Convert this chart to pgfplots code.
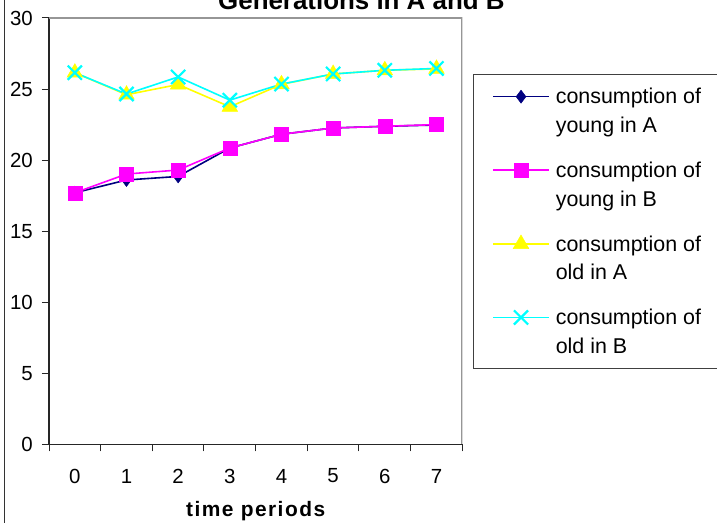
\documentclass[border=0pt]{standalone}
\usepackage{fontspec}
\setmainfont{Liberation Sans}
\usepackage{pgfplots}
\pgfplotsset{compat=1.18}
\usepackage{pgfplotstable}

\definecolor{xlnavy}{RGB}{0,0,128}
\definecolor{xlmagenta}{RGB}{255,0,255}
\definecolor{xlyellow}{RGB}{255,255,0}
\definecolor{xlcyan}{RGB}{0,255,255}
\definecolor{framegray}{RGB}{150,150,150}

% consumption by generation and economy over time
\pgfplotstableread{
t  youngA youngB oldA  oldB
0  17.70  17.70  26.15 26.15
1  18.60  19.02  24.60 24.65
2  18.85  19.30  25.32 25.85
3  20.85  20.85  23.75 24.22
4  21.82  21.82  25.33 25.35
5  22.26  22.26  26.06 26.06
6  22.38  22.38  26.32 26.32
7  22.47  22.50  26.42 26.45
}\consdata

\begin{document}
\begin{tikzpicture}[font=\fontsize{20.5}{29}\selectfont]
\useasboundingbox (0,0) rectangle (717bp,523bp);
\clip (0,0) rectangle (717bp,523bp);
\fill[white] (0,0) rectangle (717bp,523bp);
% chart area border
\draw[black!80, line width=1bp] (4bp,-5bp) -- (4bp,530bp);
% title
\node[anchor=base west, inner sep=0pt, font=\fontsize{26}{30}\selectfont\bfseries]
  at (218bp,513bp) {Generations in A and B};
\begin{axis}[
  at={(49bp,78.7bp)}, anchor=south west,
  scale only axis, width=413.3bp, height=426.3bp,
  xmin=-0.5, xmax=7.5, ymin=0, ymax=30,
  axis lines*=left,
  axis line style={black!85, line width=1.3bp},
  tick align=outside,
  major tick length=7bp,
  tick style={black!85, line width=1bp},
  /pgf/number format/assume math mode=true,
  ytick={0,5,...,30},
  yticklabel style={inner sep=0pt, xshift=-9bp},
  xtick={-0.5,0.5,...,7.5},
  xticklabels={},
  extra x ticks={0,1,...,7},
  extra x tick labels={0,1,2,3,4,5,6,7},
  extra x tick style={
    major tick length=0pt,
    tick style={draw=none},
    xticklabel style={anchor=center, inner sep=0pt, yshift=-31.7bp}},
  xlabel={time periods},
  xlabel style={at={(axis description cs:0.5,0)}, anchor=base, inner sep=0pt,
    yshift=-72.4bp,
    font=\fontsize{21}{29}\selectfont\bfseries\addfontfeature{LetterSpace=7}},
  legend image code/.code={\draw[mark repeat=2, mark phase=2, #1]
      plot coordinates {(0bp,14.5bp) (28bp,14.5bp) (56bp,14.5bp)};},
  legend image post style={line width=1.6bp},
  legend cell align=left,
  legend style={at={(axis description cs:1.0252,0.8679)}, anchor=north west,
    draw=black!75, line width=1bp, fill=white,
    font=\fontsize{21.5}{29}\selectfont,
    inner xsep=19bp, inner ysep=13.4bp, row sep=27.5bp, column sep=6bp,
    nodes={inner sep=0pt}, cells={align=left}},
]
\addplot[xlnavy, line width=1.6bp, mark=diamond*, mark size=6.5bp,
  mark options={fill=xlnavy, line width=0.5bp}]
  table[x=t, y=youngA] {\consdata};
\addlegendentry{consumption of\\young in A}
\addplot[xlmagenta, line width=1.6bp, mark=square*, mark size=7bp,
  mark options={fill=xlmagenta, line width=0.5bp}]
  table[x=t, y=youngB] {\consdata};
\addlegendentry{consumption of\\young in B}
\addplot[xlyellow, line width=1.6bp, mark=triangle*, mark size=9bp,
  mark options={fill=xlyellow, line width=0.5bp}]
  table[x=t, y=oldA] {\consdata};
\addlegendentry{consumption of\\old in A}
\addplot[xlcyan, line width=1.6bp, mark=x, mark size=10bp,
  mark options={line width=2.2bp}]
  table[x=t, y=oldB] {\consdata};
\addlegendentry{consumption of\\old in B}
% plot area frame on the top and right
\draw[framegray, line width=2bp] (rel axis cs:0,1) -- (rel axis cs:1,1) -- (rel axis cs:1,0);
\end{axis}
\end{tikzpicture}
\end{document}
